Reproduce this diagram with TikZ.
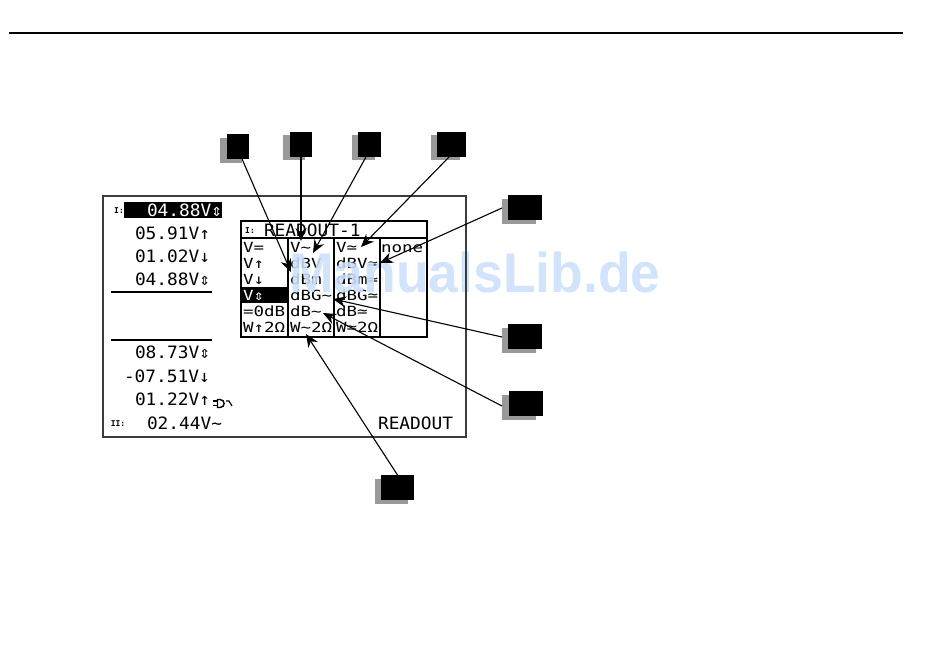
\documentclass[tikz,border=0pt]{standalone}
\usepackage{fontspec}
\setmainfont{DejaVu Sans Mono}
\newfontfamily\wmfont{Liberation Sans Bold}
\usetikzlibrary{arrows.meta}
\definecolor{wm}{RGB}{204,224,250}
\definecolor{shad}{RGB}{153,153,153}
\definecolor{frm}{RGB}{60,60,60}
\tikzset{
 x=1pt,y=-1pt,
 meas/.style={anchor=base west,inner sep=0pt,outer sep=0pt,font=\fontsize{17}{17}\selectfont,transform shape,xscale=1.05},
 cell/.style={anchor=base west,inner sep=0pt,outer sep=0pt,font=\fontsize{14}{14}\selectfont,transform shape,xscale=1.25},
 tiny/.style={anchor=center,inner sep=0pt,font=\bfseries\fontsize{8}{8}\selectfont},
 sq/.style={fill=black,inner sep=0pt,minimum width=#1,minimum height=25pt,outer sep=0pt},
 sqshadow/.style={fill=shad,inner sep=0pt,minimum width=#1,minimum height=25pt,outer sep=0pt},
 callout/.style={draw=black,line width=1.1pt,-{Stealth[length=13pt,width=11pt]}},
 rule/.style={draw=black,line width=1.6pt}
}
\begin{document}
\begin{tikzpicture}
\useasboundingbox (0,0) rectangle (950,653);
\draw[line width=1.6pt] (9,33) -- (903,33);
% highlight bars
\fill[black] (124,202) rectangle (222,218);
\fill[black] (242,287) rectangle (287,303);
% measurement text
\node[tiny] (ch1) at (119,211) {I:};
\node[meas,text=white] (m1) at (147,216) {04.88V⇕};
\node[meas] (m2) at (135,239) {05.91V↑};
\node[meas] (m3) at (135,262) {01.02V↓};
\node[meas] (m4) at (135,285) {04.88V⇕};
\node[meas] (m5) at (135,358) {08.73V⇕};
\node[meas] (m6) at (124,382) {-07.51V↓};
\node[meas] (m7) at (135,405) {01.22V↑};
\node[tiny] (ch2) at (118,424) {II:};
\node[meas] (m8) at (147,429) {02.44V\char`\~};
\node[meas] (ro) at (378,429) {READOUT};
\node[tiny] (ch3) at (250,231) {I:};
\node[meas] (title) at (264,236) {READOUT-1};
% table text
\node[cell] (a1) at (243,252) {V=};
\node[cell] (a2) at (243,268) {V↑};
\node[cell] (a3) at (243,284) {V↓};
\node[cell,text=white] (a4) at (243,300) {V⇕};
\node[cell] (a5) at (243,316) {=0dB};
\node[cell] (a6) at (243,332) {W↑2Ω};
\node[cell] (b1) at (290,252) {V\char`\~};
\node[cell] (b2) at (290,268) {dBV};
\node[cell] (b3) at (290,284) {dBm};
\node[cell] (b4) at (290,300) {dBG\char`\~};
\node[cell] (b5) at (290,316) {dB\char`\~};
\node[cell] (b6) at (290,332) {W\char`\~2Ω};
\node[cell] (c1) at (336,252) {V≃};
\node[cell] (c2) at (336,268) {dBV≃};
\node[cell] (c3) at (336,284) {dBm≃};
\node[cell] (c4) at (336,300) {dBG≃};
\node[cell] (c5) at (336,316) {dB≃};
\node[cell] (c6) at (336,332) {W≃2Ω};
\node[cell] (d1) at (381,252) {none};
% watermark
\node[anchor=base west,inner sep=0pt,text=wm,opacity=.88,font=\wmfont\fontsize{56}{56}\selectfont,transform shape,xscale=.955] (wmk) at (289,292) {ManualsLib.de};
% frame and table
\draw[frm,line width=1.5pt] (103,196) rectangle (466,437);
\draw[rule] (241,221) rectangle (427,337);
\draw[rule] (241,238) -- (427,238);
\draw[line width=1.2pt] (288,238) -- (288,337) (334,238) -- (334,337) (380,238) -- (380,337);
\draw[rule] (111,292) -- (212,292);
\draw[rule] (111,340) -- (212,340);
% probe icon
\draw[line width=1.2pt] (213,401) -- (218,401) (213,405.5) -- (218,405.5);
\draw[line width=1.4pt] (217.5,399.5) -- (220,399.5) .. controls (225.5,399.5) and (225.5,407.5) .. (220,407.5) -- (217.5,407.5) -- cycle;
\draw[line width=1.2pt] (226,401) -- (229,401) -- (232,406);
% callout tips
\coordinate (t1) at (291,272);
\coordinate (t2) at (301,241);
\coordinate (t3) at (313,253);
\coordinate (t4) at (361,247);
\coordinate (t5) at (380,263);
\coordinate (t6) at (333,299);
\coordinate (t7) at (323,313);
\coordinate (t8) at (306,334);
% squares
\node[sqshadow=22pt] (s1) at (231,150) {};
\node[sqshadow=22pt] (s2) at (294,147) {};
\node[sqshadow=23pt] (s3) at (363,147) {};
\node[sqshadow=29pt] (s4) at (445.5,147) {};
\node[sqshadow=34pt] (s5) at (519,211) {};
\node[sqshadow=34pt] (s6) at (519,340) {};
\node[sqshadow=34pt] (s7) at (519,407) {};
\node[sqshadow=33pt] (s8) at (391,491) {};
\node[sq=22pt] (q1) at (238,146.5) {};
\node[sq=22pt] (q2) at (301,144.5) {};
\node[sq=23pt] (q3) at (369.5,144.5) {};
\node[sq=29pt] (q4) at (451.5,144.5) {};
\node[sq=34pt] (q5) at (525,207.5) {};
\node[sq=34pt] (q6) at (525,336.5) {};
\node[sq=34pt] (q7) at (526,403.5) {};
\node[sq=33pt] (q8) at (397.5,487.5) {};
% connectors
\draw[callout] (q1.-72) -- (t1);
\draw[callout] (q2.south) -- (t2);
\draw[callout] (q3.-106) -- (t3);
\draw[callout] (q4.-101) -- (t4);
\draw[callout] (s5.west |- 0,208) -- (t5);
\draw[callout] (s6.west |- 0,337) -- (t6);
\draw[callout] (s7.west |- 0,406) -- (t7);
\draw[callout] (q8.north) -- (t8);
\end{tikzpicture}
\end{document}
